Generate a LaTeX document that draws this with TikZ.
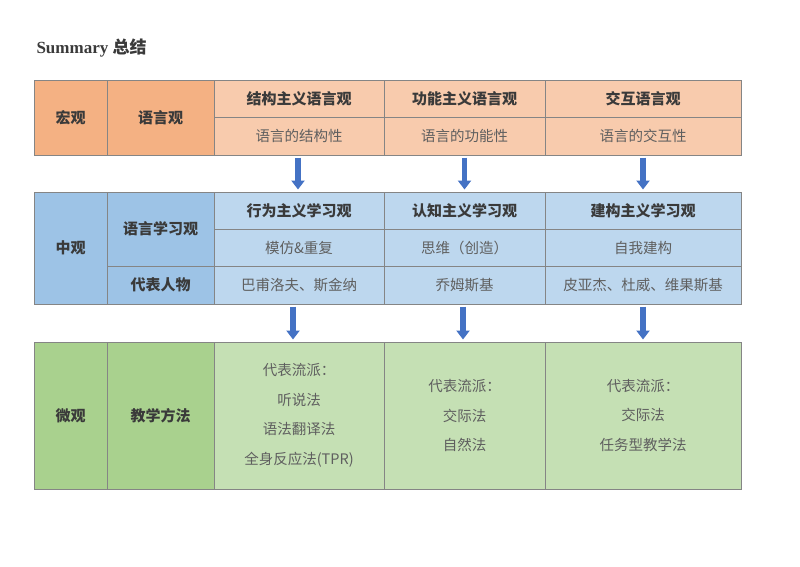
\documentclass[tikz,border=0pt]{standalone}
\usepackage{fontspec}
\setmainfont{Liberation Serif}
\newfontfamily\cjk{Noto Sans CJK SC}
\usetikzlibrary{arrows.meta}

\definecolor{orDark}{HTML}{F4B183}
\definecolor{orLight}{HTML}{F8CBAD}
\definecolor{blDark}{HTML}{9DC3E6}
\definecolor{blLight}{HTML}{BDD7EE}
\definecolor{grDark}{HTML}{A9D18E}
\definecolor{grLight}{HTML}{C5E0B4}
\definecolor{lineGray}{HTML}{858585}
\definecolor{txtDark}{HTML}{3A3A3A}
\definecolor{txtGray}{HTML}{5F5F5F}
\definecolor{arrBlue}{HTML}{4472C4}

\begin{document}
\begin{tikzpicture}[x=1pt,y=-1pt,
  cell/.style={draw=lineGray,line width=1pt,inner sep=0pt,align=center,
    text=txtGray,font=\cjk\fontsize{14.5}{29.5}\selectfont},
  head/.style={cell,text=txtDark,font=\cjk\bfseries\fontsize{15}{18}\selectfont},
  arr/.style={draw=arrBlue,line width=5.5pt,-{Triangle[width=13pt,length=9pt]},
    shorten <=2pt,shorten >=2pt}]
\useasboundingbox (0,0) rectangle (800,566);

\node[anchor=west,text=txtDark,font=\bfseries\fontsize{17}{20}\selectfont] (title) at (33,48) {Summary {\cjk 总结}};

% macro level
\node[head,fill=orDark,minimum width=73pt,minimum height=75pt] (macro) at (70.5,117.5) {宏观};
\node[head,fill=orDark,minimum width=107pt,minimum height=75pt] (yuyanguan) at (160.5,117.5) {语言观};
\node[head,fill=orLight,minimum width=170pt,minimum height=37pt] (jiegou) at (299,98.5) {结构主义语言观};
\node[head,fill=orLight,minimum width=161pt,minimum height=37pt] (gongneng) at (464.5,98.5) {功能主义语言观};
\node[head,fill=orLight,minimum width=196pt,minimum height=37pt] (jiaohu) at (643,98.5) {交互语言观};
\node[cell,fill=orLight,minimum width=170pt,minimum height=38pt] (jiegouxing) at (299,136) {语言的结构性};
\node[cell,fill=orLight,minimum width=161pt,minimum height=38pt] (gongnengxing) at (464.5,136) {语言的功能性};
\node[cell,fill=orLight,minimum width=196pt,minimum height=38pt] (jiaohuxing) at (643,136) {语言的交互性};

% meso level
\node[head,fill=blDark,minimum width=73pt,minimum height=112pt] (meso) at (70.5,248) {中观};
\node[head,fill=blDark,minimum width=107pt,minimum height=74pt] (xuexiguan) at (160.5,229) {语言学习观};
\node[head,fill=blDark,minimum width=107pt,minimum height=38pt] (renwu) at (160.5,285) {代表人物};
\node[head,fill=blLight,minimum width=170pt,minimum height=37pt] (xingwei) at (299,210.5) {行为主义学习观};
\node[head,fill=blLight,minimum width=161pt,minimum height=37pt] (renzhi) at (464.5,210.5) {认知主义学习观};
\node[head,fill=blLight,minimum width=196pt,minimum height=37pt] (jiangou) at (643,210.5) {建构主义学习观};
\node[cell,fill=blLight,minimum width=170pt,minimum height=37pt] (mofang) at (299,247.5) {模仿\&重复};
\node[cell,fill=blLight,minimum width=161pt,minimum height=37pt] (siwei) at (464.5,247.5) {思维（创造）};
\node[cell,fill=blLight,minimum width=196pt,minimum height=37pt] (ziwo) at (643,247.5) {自我建构};
\node[cell,fill=blLight,minimum width=170pt,minimum height=38pt] (bafu) at (299,285) {巴甫洛夫、斯金纳};
\node[cell,fill=blLight,minimum width=161pt,minimum height=38pt] (qiaomu) at (464.5,285) {乔姆斯基};
\node[cell,fill=blLight,minimum width=196pt,minimum height=38pt] (piya) at (643,285) {皮亚杰、杜威、维果斯基};

% micro level
\node[head,fill=grDark,minimum width=73pt,minimum height=147pt] (micro) at (70.5,415.5) {微观};
\node[head,fill=grDark,minimum width=107pt,minimum height=147pt] (fangfa) at (160.5,415.5) {教学方法};
\node[cell,fill=grLight,minimum width=170pt,minimum height=147pt] (liupaiA) at (299,415.5) {代表流派：\\听说法\\语法翻译法\\全身反应法(TPR)};
\node[cell,fill=grLight,minimum width=161pt,minimum height=147pt] (liupaiB) at (464.5,415.5) {代表流派：\\交际法\\自然法};
\node[cell,fill=grLight,minimum width=196pt,minimum height=147pt] (liupaiC) at (643,415.5) {代表流派：\\交际法\\任务型教学法};

% arrows
\draw[arr] ([xshift=-1pt]jiegouxing.south) -- ([xshift=-1pt]xingwei.north);
\draw[arr] (gongnengxing.south) -- (renzhi.north);
\draw[arr] (jiaohuxing.south) -- (jiangou.north);
\draw[arr] ([xshift=-6pt]bafu.south) -- ([xshift=-6pt]liupaiA.north);
\draw[arr] ([xshift=-1.5pt]qiaomu.south) -- ([xshift=-1.5pt]liupaiB.north);
\draw[arr] (piya.south) -- (liupaiC.north);
\end{tikzpicture}
\end{document}
